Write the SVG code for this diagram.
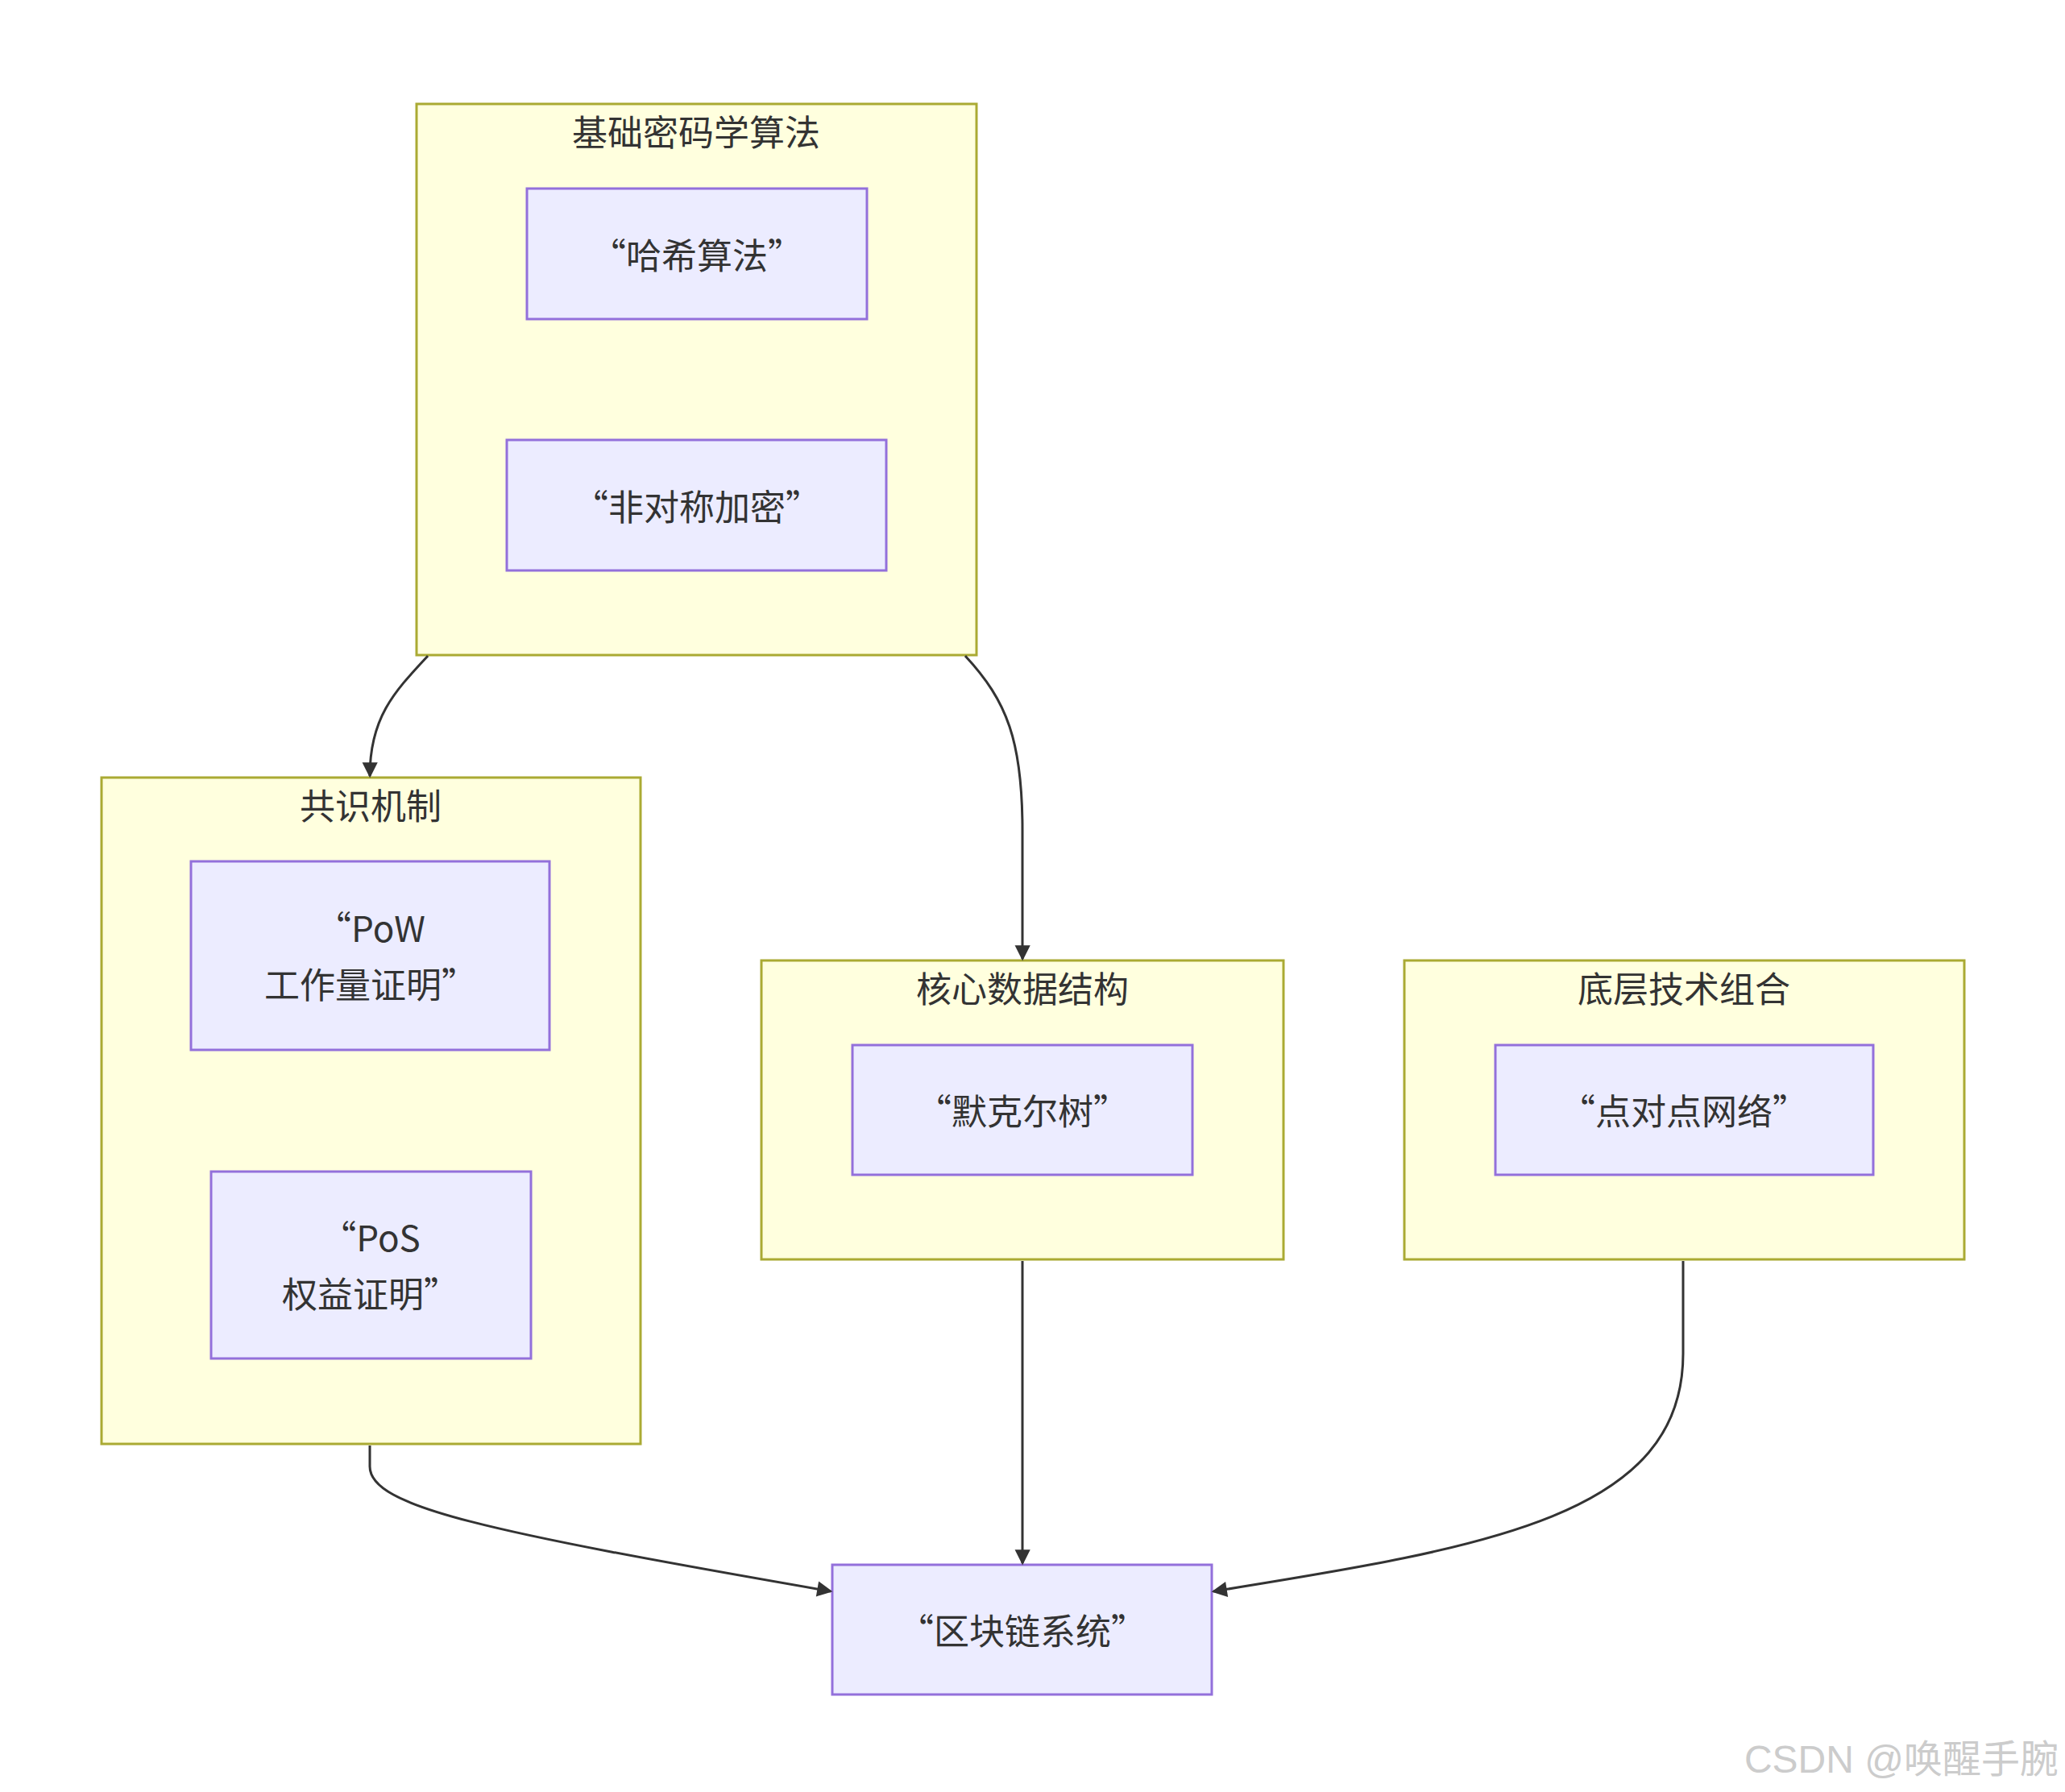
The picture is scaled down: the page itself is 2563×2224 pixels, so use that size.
<svg xmlns="http://www.w3.org/2000/svg" width="2563" height="2224" viewBox="0 0 2563 2224">
<style>
.c{fill:#ffffde;stroke:#aaaa33;stroke-width:3}
.n{fill:#ececff;stroke:#9370db;stroke-width:3}
text{font-family:"Noto Sans CJK SC","Liberation Sans",sans-serif;font-size:44px;fill:#333;text-anchor:middle;dominant-baseline:central}
.e{fill:none;stroke:#333;stroke-width:3;marker-end:url(#a)}
</style>
<defs><marker id="a" viewBox="0 0 10 10" refX="9" refY="5" markerWidth="8" markerHeight="8" markerUnits="userSpaceOnUse" orient="auto" style="overflow:visible"><path d="M0,0L10,5L0,10z" fill="#333" transform="scale(2.4) translate(-5,-3)"/></marker></defs>
<rect width="2563" height="2224" fill="#fff"/>
<g id="crypto"><rect class="c" x="517" y="129" width="695" height="684"/><text x="864" y="162">基础密码学算法</text></g>
<g id="consensus"><rect class="c" x="126" y="965" width="669" height="827"/><text x="460" y="998">共识机制</text></g>
<g id="datastruct"><rect class="c" x="945" y="1192" width="648" height="371"/><text x="1269" y="1225">核心数据结构</text></g>
<g id="combo"><rect class="c" x="1743" y="1192" width="695" height="371"/><text x="2090" y="1225">底层技术组合</text></g>
<g id="hash"><rect class="n" x="654" y="234" width="422" height="162"/><text x="865" y="315">“哈希算法”</text></g>
<g id="asym"><rect class="n" x="629" y="546" width="471" height="162"/><text x="865" y="627">“非对称加密”</text></g>
<g id="pow"><rect class="n" x="237" y="1069" width="445" height="234"/><text x="460" y="1150">“PoW</text><text x="460" y="1220">工作量证明”</text></g>
<g id="pos"><rect class="n" x="262" y="1454" width="397" height="232"/><text x="460" y="1534">“PoS</text><text x="460" y="1604">权益证明”</text></g>
<g id="merkle"><rect class="n" x="1058" y="1297" width="422" height="161"/><text x="1269" y="1377">“默克尔树”</text></g>
<g id="p2p"><rect class="n" x="1856" y="1297" width="469" height="161"/><text x="2090" y="1377">“点对点网络”</text></g>
<g id="chain"><rect class="n" x="1033" y="1942" width="471" height="161"/><text x="1269" y="2022">“区块链系统”</text></g>
<g id="edges">
<path class="e" d="M531,814 C490,858 459,890 459,963"/>
<path class="e" d="M1198,814 C1250,870 1269,920 1269,1030 L1269,1190"/>
<path class="e" d="M1269,1565 L1269,1940"/>
<path class="e" d="M459,1794 L459,1820 C459,1870 600,1900 1031,1975"/>
<path class="e" d="M2089,1565 L2089,1680 C2089,1880 1850,1920 1506,1975"/>
</g>
<text x="2555" y="2183" style="font-size:48px;fill:#ccc;text-anchor:end;font-family:'Liberation Sans','Noto Sans CJK SC',sans-serif">CSDN @唤醒手腕</text>
</svg>
